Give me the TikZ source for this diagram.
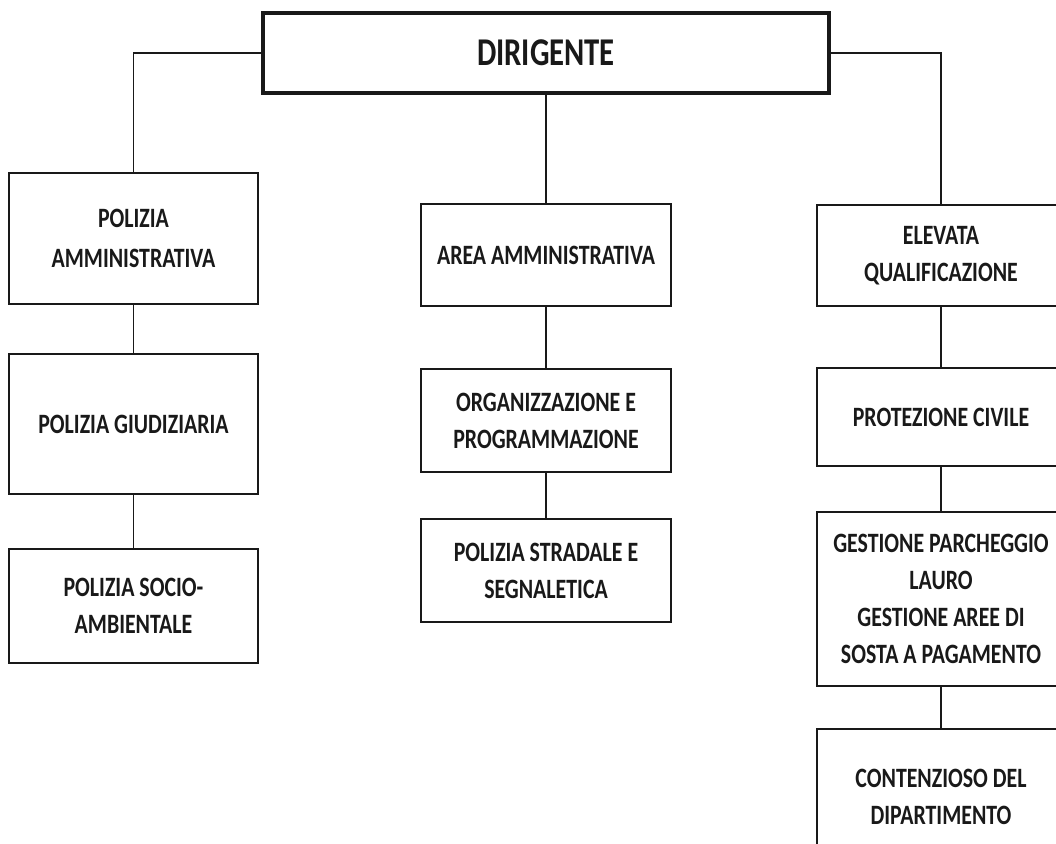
\documentclass[tikz,border=0pt]{standalone}
\usepackage{fontspec}
\setmainfont{Carlito}[FakeStretch=0.78]
\begin{document}
\begin{tikzpicture}[x=0.75pt,y=-0.75pt,
  ink/.style={draw=black!90},
  unitbox/.style={ink, line width=1.1pt, rectangle, inner sep=0pt, align=center,
    font=\bfseries\fontsize{21pt}{27.75pt}\selectfont, text=black!90},
  headbox/.style={ink, line width=3pt, rectangle, inner sep=0pt, align=center,
    font=\bfseries\fontsize{29.5pt}{34pt}\selectfont, text=black!90},
  link/.style={ink, line width=1.1pt}]
\useasboundingbox (0,0) rectangle (1056,843);
\clip (0,0) rectangle (1056,843);
\fill[white] (0,0) rectangle (1056,843);

\node[headbox, minimum width=566*0.75pt, minimum height=80*0.75pt] (dir) at (546,53) {DIRIGENTE};

\node[unitbox, minimum width=249*0.75pt, minimum height=131*0.75pt] (L1) at (133.5,238.5) {POLIZIA\\[2pt]AMMINISTRATIVA};
\node[unitbox, minimum width=249*0.75pt, minimum height=140*0.75pt] (L2) at (133.5,424) {POLIZIA GIUDIZIARIA};
\node[unitbox, minimum width=249*0.75pt, minimum height=114*0.75pt] (L3) at (133.5,606) {POLIZIA SOCIO-\\AMBIENTALE};

\node[unitbox, minimum width=250*0.75pt, minimum height=102*0.75pt] (M1) at (546,255) {AREA AMMINISTRATIVA};
\node[unitbox, minimum width=250*0.75pt, minimum height=103*0.75pt] (M2) at (546,420.5) {ORGANIZZAZIONE E\\PROGRAMMAZIONE};
\node[unitbox, minimum width=250*0.75pt, minimum height=103*0.75pt] (M3) at (546,570.5) {POLIZIA STRADALE E\\SEGNALETICA};

\node[unitbox, minimum width=248*0.75pt, minimum height=101*0.75pt] (R1) at (941,255.5) {ELEVATA\\QUALIFICAZIONE};
\node[unitbox, minimum width=248*0.75pt, minimum height=98*0.75pt] (R2) at (941,417) {PROTEZIONE CIVILE};
\node[unitbox, minimum width=248*0.75pt, minimum height=174*0.75pt] (R3) at (941,599) {GESTIONE PARCHEGGIO\\LAURO\\GESTIONE AREE DI\\SOSTA A PAGAMENTO};
\node[unitbox, minimum width=248*0.75pt, minimum height=136*0.75pt] (R4) at (941,797) {CONTENZIOSO DEL\\DIPARTIMENTO};

\draw[link] (dir.west) -| (L1.north);
\draw[link] (dir.south) -- (M1.north);
\draw[link] (dir.east) -| (R1.north);
\draw[link] (L1) -- (L2);
\draw[link] (L2) -- (L3);
\draw[link] (M1) -- (M2);
\draw[link] (M2) -- (M3);
\draw[link] (R1) -- (R2);
\draw[link] (R2) -- (R3);
\draw[link] (R3) -- (R4);
\end{tikzpicture}
\end{document}
